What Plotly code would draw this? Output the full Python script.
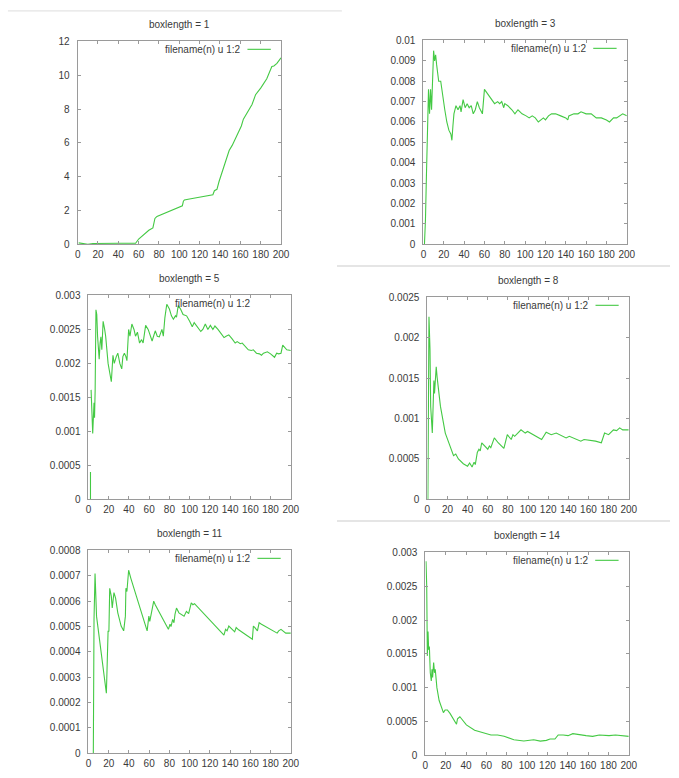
import plotly.graph_objects as go

W, H = 679, 778

# ---- data: running estimate vs. n for each box length ----
titles = ["boxlength = 1", "boxlength = 3", "boxlength = 5",
          "boxlength = 8", "boxlength = 11", "boxlength = 14"]
legend_label = "filename(n) u 1:2"

x_ticks = [0, 20, 40, 60, 80, 100, 120, 140, 160, 180, 200]
x_ticktext = ["0", "20", "40", "60", "80", "100", "120", "140", "160", "180", "200"]

p1_x = [1, 5, 10, 15, 20, 30, 40, 50, 57, 60, 65, 70, 74, 76, 78, 80, 90, 100, 103, 104, 105, 110,
        120, 131, 133, 134.5, 137, 139, 142, 146, 149, 152, 155.5, 158, 161, 163, 167, 171.5, 175,
        180, 186, 189, 191, 193, 196, 200]
p1_y = [0.08, 0.05, 0.0, 0.05, 0.06, 0.06, 0.06, 0.06, 0.06, 0.31, 0.6, 0.83, 0.97, 1.53, 1.65, 1.7,
        1.95, 2.19, 2.28, 2.55, 2.62, 2.68, 2.78, 2.89, 2.93, 3.17, 3.25, 3.7, 4.3, 4.97, 5.55, 5.85,
        6.33, 6.6, 7.0, 7.4, 7.8, 8.27, 8.85, 9.24, 9.79, 10.2, 10.52, 10.55, 10.7, 11.03]

p2_x = [1, 2, 3, 4, 5, 6, 7, 8, 9, 10, 11, 12, 13, 15, 17, 19, 21, 23, 25, 27, 28, 29, 30, 32, 34,
        36, 37, 39, 41, 43, 45, 47, 49, 51, 53, 55, 58, 60, 63, 66, 70, 73, 75, 77, 79, 80, 83, 87,
        90, 93, 97, 101, 104, 107, 110, 113, 116, 118, 120, 123, 126, 130, 135, 140, 142, 143, 148,
        152, 155, 160, 165, 170, 175, 180, 183, 187, 190, 193, 196, 200]
p2_y = [0.0, 0.0012, 0.0035, 0.0061, 0.0076, 0.0064, 0.0076, 0.0066, 0.0088, 0.0095, 0.0090, 0.0093,
        0.0088, 0.0080, 0.0080, 0.0072, 0.0066, 0.0060, 0.0056, 0.0054, 0.0051, 0.0058, 0.0064, 0.0068,
        0.0066, 0.0068, 0.0065, 0.0071, 0.0067, 0.0069, 0.0067, 0.0068, 0.0064, 0.0066, 0.0070, 0.0067,
        0.0064, 0.0076, 0.0074, 0.0072, 0.0069, 0.0070, 0.0069, 0.0070, 0.0067, 0.0069, 0.0068, 0.0066,
        0.0064, 0.0066, 0.0064, 0.0063, 0.0062, 0.0063, 0.0062, 0.0060, 0.0061, 0.0062, 0.0061, 0.0063,
        0.0064, 0.0064, 0.0063, 0.0062, 0.0061, 0.0063, 0.0064, 0.0064, 0.0065, 0.0064, 0.0064, 0.0062,
        0.0062, 0.0061, 0.0060, 0.0062, 0.0062, 0.0063, 0.0064, 0.0063]

p3_x = [2, 2, None, 2.6, 3.2, 3.6, 4.2, 5, 5.5, 6, 6.6, 7.4, 8.2, 9, 10.6, 11.5, 12.3, 13.2, 14.5, 16,
        17, 19.4, 22.6, 24.2, 25.5, 27.5, 29, 31, 32.9, 34, 35.5, 37, 38, 39.7, 41, 42.9, 45, 46.5,
        48.4, 50.5, 52.5, 54, 56.5, 59, 61, 62.9, 66, 68, 70, 72.6, 74, 75.5, 77.4, 80, 82, 83.9, 86,
        87, 88.7, 91, 93.5, 97, 100, 102.6, 104.5, 107, 109.7, 111, 113, 115.5, 118, 120.5, 123, 125,
        128, 132, 134, 136, 138.7, 142, 145, 147, 150, 152, 156, 158, 161, 163, 166, 169, 171, 173,
        176.8, 180, 183.9, 186, 188, 190.3, 192, 196, 200]
p3_y = [0, 0.0004, None, 0.00161, 0.00122, 0.0014, 0.00097, 0.00125, 0.00142, 0.0012, 0.0016, 0.00279,
        0.00272, 0.0024, 0.00206, 0.0023, 0.00239, 0.0022, 0.00262, 0.0025, 0.0024, 0.002, 0.00173,
        0.00212, 0.002, 0.0021, 0.00215, 0.002, 0.00192, 0.0021, 0.00215, 0.0021, 0.00204, 0.0025,
        0.0024, 0.00258, 0.0025, 0.0024, 0.00246, 0.0023, 0.00235, 0.0023, 0.00256, 0.0025, 0.0024,
        0.00233, 0.00248, 0.0024, 0.00239, 0.0025, 0.0024, 0.00267, 0.00287, 0.0028, 0.0027, 0.00265,
        0.0027, 0.00268, 0.00285, 0.0028, 0.00272, 0.0027, 0.00262, 0.00254, 0.0026, 0.00255, 0.0025,
        0.00247, 0.0025, 0.00258, 0.0025, 0.00256, 0.0025, 0.00255, 0.0025, 0.00241, 0.00238, 0.0024,
        0.00242, 0.00236, 0.0023, 0.00232, 0.00229, 0.0023, 0.00224, 0.0022, 0.00219, 0.0022, 0.00215,
        0.00214, 0.00212, 0.00215, 0.00217, 0.00214, 0.00209, 0.00215, 0.00214, 0.00215, 0.00227,
        0.0022, 0.00219]

p4_x = [0.5, 1, 1.6, 2.6, 3.3, 4.9, 6.5, 7.1, 8.8, 9.7, 13, 17.8, 22.7, 26, 28.2, 30.8, 35.7, 39.9,
        42, 44.4, 46.4, 47.6, 49.6, 51.2, 52.5, 54, 60, 61.6, 63, 66.5, 70.3, 76, 79.4, 83.3, 85, 86.7,
        89.8, 93, 97.2, 99.5, 113.5, 118, 123, 128, 137.8, 141, 152.4, 155.6, 167, 172.8, 176, 180,
        184.8, 188, 191, 194, 200]
p4_y = [0, 0.00062, 0.00226, 0.00186, 0.00115, 0.00082, 0.00147, 0.00131, 0.00164, 0.00151, 0.00115,
        0.00082, 0.00066, 0.00054, 0.00056, 0.0005, 0.00044, 0.00041, 0.00045, 0.0004, 0.00046,
        0.00043, 0.00058, 0.00062, 0.0006, 0.0007, 0.00062, 0.00066, 0.00064, 0.00076, 0.0007,
        0.00063, 0.0008, 0.00074, 0.0008, 0.00078, 0.00082, 0.00086, 0.00082, 0.00084, 0.00074,
        0.00083, 0.0008, 0.00082, 0.00076, 0.00078, 0.00072, 0.00074, 0.00072, 0.0007, 0.00082,
        0.0008, 0.00086, 0.00085, 0.000885, 0.00086, 0.00086]

p5_x = [4.8, 4.8, 5.5, 6.5, 7.1, 8, 17.7, 18.7, 19.4, 20.2, 21, 22.6, 23.5, 25.2, 26.8, 29, 32.3, 34.8,
        36.5, 37, 38, 39.7, 41.9, 58, 59.7, 60.6, 62.9, 64.5, 66, 79, 80.6, 81.6, 83.2, 84.5, 85.5, 87,
        89.4, 92, 94.5, 96.8, 99, 101.6, 103.2, 104.8, 133.9, 135.5, 137, 138.7, 142, 144.5, 146,
        148.4, 162, 163, 164.5, 167, 168.7, 171, 186.5, 188, 190.3, 193, 195, 200]
p5_y = [0, 0.000179, 0.000528, 0.000709, 0.00063, 0.00054, 0.000237, 0.000386, 0.000483, 0.00048,
        0.000651, 0.000619, 0.000573, 0.000634, 0.000612, 0.000554, 0.000502, 0.000483, 0.000541,
        0.000651, 0.000638, 0.000722, 0.00069, 0.000483, 0.000541, 0.00052, 0.00056, 0.0006,
        0.000586, 0.000489, 0.000509, 0.0005, 0.000528, 0.000515, 0.000548, 0.000573, 0.000554,
        0.000548, 0.000541, 0.00056, 0.000551, 0.000593, 0.000586, 0.00059, 0.000466, 0.000489,
        0.000483, 0.000502, 0.000489, 0.000479, 0.000496, 0.000487, 0.00045, 0.000502, 0.000496,
        0.000483, 0.000515, 0.000509, 0.000474, 0.000483, 0.000489, 0.000479, 0.000474, 0.000474]

p6_x = [0.6, 1.3, 1.9, 2.6, 3.2, 3.9, 4.8, 5.8, 6.5, 7.1, 8.1, 9, 9.7, 11.3, 13.5, 16, 17.7, 19.4, 21.6,
        24.2, 27.4, 30.6, 31.6, 33.9, 35.5, 40.3, 48.4, 56.5, 64.5, 71, 77.4, 87, 96.8, 106.5, 113,
        119, 122.6, 127.4, 130.6, 135.5, 140.3, 145, 151.6, 158, 164.5, 171, 180.6, 187, 200]
p6_y = [0.00287, 0.0025, 0.00147, 0.00183, 0.00156, 0.00161, 0.00122, 0.0011, 0.00127, 0.00115,
        0.00137, 0.00122, 0.00127, 0.001, 0.00081, 0.00069, 0.00063, 0.00067, 0.00067, 0.00062,
        0.00053, 0.00046, 0.00054, 0.00057, 0.00054, 0.00045, 0.00037, 0.00034, 0.0003, 0.0003,
        0.00028, 0.00023, 0.00021, 0.00023, 0.00021, 0.00022, 0.00024, 0.00024, 0.0003, 0.0003,
        0.00029, 0.00032, 0.0003, 0.00029, 0.00028, 0.0003, 0.00029, 0.0003, 0.00028]

y_ticks = [
    [0, 2, 4, 6, 8, 10, 12],
    [0, 0.001, 0.002, 0.003, 0.004, 0.005, 0.006, 0.007, 0.008, 0.009, 0.01],
    [0, 0.0005, 0.001, 0.0015, 0.002, 0.0025, 0.003],
    [0, 0.0005, 0.001, 0.0015, 0.002, 0.0025],
    [0, 0.0001, 0.0002, 0.0003, 0.0004, 0.0005, 0.0006, 0.0007, 0.0008],
    [0, 0.0005, 0.001, 0.0015, 0.002, 0.0025, 0.003],
]
y_ticktext = [
    ["0", "2", "4", "6", "8", "10", "12"],
    ["0", "0.001", "0.002", "0.003", "0.004", "0.005", "0.006", "0.007", "0.008", "0.009", "0.01"],
    ["0", "0.0005", "0.001", "0.0015", "0.002", "0.0025", "0.003"],
    ["0", "0.0005", "0.001", "0.0015", "0.002", "0.0025"],
    ["0", "0.0001", "0.0002", "0.0003", "0.0004", "0.0005", "0.0006", "0.0007", "0.0008"],
    ["0", "0.0005", "0.001", "0.0015", "0.002", "0.0025", "0.003"],
]
y_ranges = [[0, 12], [0, 0.01], [0, 0.003], [0, 0.0025], [0, 0.0008], [0, 0.003]]
series = [(p1_x, p1_y), (p2_x, p2_y), (p3_x, p3_y), (p4_x, p4_y), (p5_x, p5_y), (p6_x, p6_y)]
show_key_line = [True, True, False, True, True, True]

# ---- layout: plot frames in pixels (left, right, top, bottom) ----
frames = [(76, 283, 36, 242), (428, 635, 35, 242),
          (87, 293, 294, 501), (432, 637, 296, 501),
          (87, 293, 553, 759), (430, 637, 555, 761)]

LINE = "#44c944"
FRAME = "#9a9a9a"
TXT = "#3a3a3a"
FONT = "Liberation Sans, Arial, sans-serif"

fig = go.Figure()
layout = dict(width=W, height=H, margin=dict(l=0, r=0, t=0, b=0),
              paper_bgcolor="white", plot_bgcolor="white", showlegend=False,
              font=dict(family=FONT, size=10, color=TXT))
annotations = []
shapes = []

for i, ((xs, ys), (l, r, t, b)) in enumerate(zip(series, frames)):
    k = "" if i == 0 else str(i + 1)
    fig.add_trace(go.Scatter(x=xs, y=ys, mode="lines", connectgaps=False,
                             line=dict(color=LINE, width=1.1),
                             xaxis="x" + k, yaxis="y" + k, hoverinfo="skip"))
    ax_common = dict(showline=True, linecolor=FRAME, linewidth=1, mirror="ticks",
                     ticks="inside", ticklen=3, tickcolor=FRAME, tickwidth=1,
                     showgrid=False, zeroline=False, fixedrange=True,
                     tickfont=dict(family=FONT, size=10, color=TXT))
    layout["xaxis" + k] = dict(ax_common, domain=[l / W, r / W], range=[0, 200],
                               tickmode="array", tickvals=x_ticks, ticktext=x_ticktext,
                               anchor="y" + k, ticklabelstandoff=1)
    layout["yaxis" + k] = dict(ax_common, domain=[1 - b / H, 1 - t / H], range=y_ranges[i],
                               tickmode="array", tickvals=y_ticks[i], ticktext=y_ticktext[i],
                               anchor="x" + k, ticklabelstandoff=5)
    # panel title
    annotations.append(dict(text=titles[i], xref="x" + k + " domain", yref="y" + k + " domain",
                            x=0.5, y=1, yanchor="middle", yshift=17, showarrow=False,
                            font=dict(family=FONT, size=10, color=TXT)))
    # key text and sample line
    annotations.append(dict(text=legend_label, xref="x" + k + " domain", yref="y" + k + " domain",
                            x=0.81, y=1, yshift=-8, xanchor="right", yanchor="middle",
                            showarrow=False, font=dict(family=FONT, size=10, color=TXT)))
    if show_key_line[i]:
        shapes.append(dict(type="line", xref="x" + k + " domain", yref="y" + k + " domain",
                           x0=0.835, x1=0.95, y0=1 - 8 / (b - t), y1=1 - 8 / (b - t),
                           line=dict(color=LINE, width=1.1)))

# light separators between the stacked screenshots
sep_col = "#dddddd"
shapes.append(dict(type="line", xref="paper", yref="paper", x0=5 / W, x1=345 / W,
                   y0=1 - 5 / H, y1=1 - 5 / H, line=dict(color=sep_col, width=1)))
shapes.append(dict(type="line", xref="paper", yref="paper", x0=340 / W, x1=1,
                   y0=1 - 264 / H, y1=1 - 264 / H, line=dict(color=sep_col, width=1.5)))
shapes.append(dict(type="line", xref="paper", yref="paper", x0=340 / W, x1=1,
                   y0=1 - 523 / H, y1=1 - 523 / H, line=dict(color=sep_col, width=1.5)))

layout["annotations"] = annotations
layout["shapes"] = shapes
fig.update_layout(**layout)
fig.write_html("out.html")
